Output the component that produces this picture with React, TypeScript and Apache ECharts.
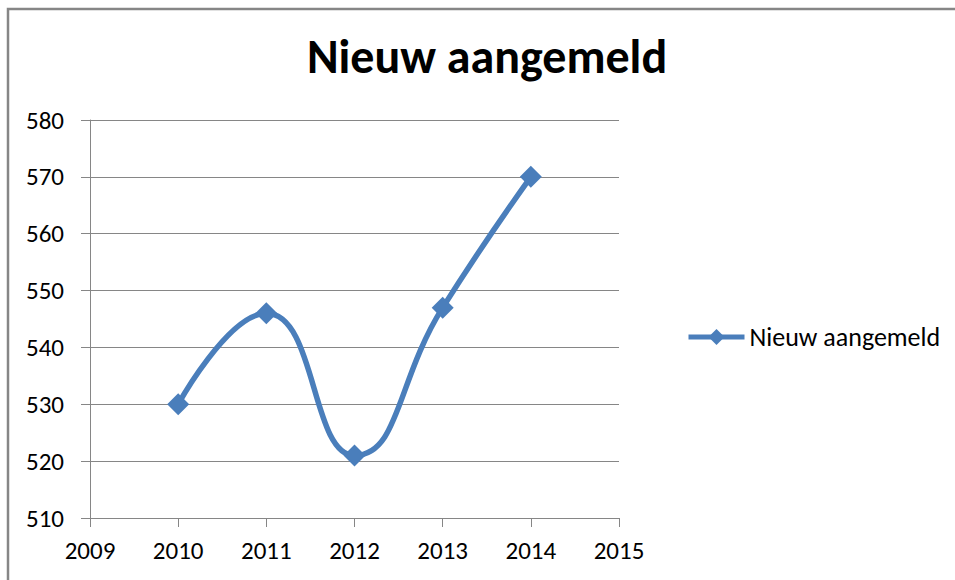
import React, { useEffect, useRef } from "react";
import * as echarts from "echarts";

const years = [2010, 2011, 2012, 2013, 2014];
const values = [530, 546, 521, 547, 570];
const seriesName = "Nieuw aangemeld";
const titleText = "Nieuw aangemeld";

const FONT = "Carlito, 'Open Sans', sans-serif";
const BLUE = "#4A7EBB";

export default function App() {
  const ref = useRef<HTMLDivElement>(null);
  useEffect(() => {
    if (!ref.current) return;
    const chart = echarts.init(ref.current, undefined, { renderer: "svg" });
    chart.setOption({
      animation: false,
      backgroundColor: "#ffffff",
      graphic: [
        {
          type: "rect",
          shape: { x: 8, y: 9, width: 1200, height: 1000 },
          style: { fill: "none", stroke: "#868686", lineWidth: 2.5 },
          z: 100,
        },
      ],
      title: {
        text: titleText,
        left: 487,
        top: 32,
        textAlign: "center",
        padding: 0,
        textStyle: { fontFamily: FONT, fontSize: 48, fontWeight: "bold", color: "#000" },
      },
      legend: {
        data: [seriesName],
        left: 686,
        top: 324,
        padding: 0,
        itemWidth: 56,
        itemHeight: 20,
        lineStyle: { width: 5 },
        textStyle: { fontFamily: FONT, fontSize: 26, color: "#000" },
      },
      grid: { left: 90, right: 336, top: 120, bottom: 62, containLabel: false },
      xAxis: {
        type: "value",
        min: 2009,
        max: 2015,
        interval: 1,
        splitLine: { show: false },
        axisLine: { show: true, lineStyle: { color: "#868686", width: 1 } },
        axisTick: { show: true, length: 9, lineStyle: { color: "#868686" } },
        axisLabel: {
          fontFamily: FONT,
          fontSize: 25,
          color: "#000",
          margin: 20,
          formatter: (v: number) => String(v),
        },
      },
      yAxis: {
        type: "value",
        min: 510,
        max: 580,
        interval: 10,
        axisLine: { show: true, lineStyle: { color: "#868686", width: 1 } },
        axisTick: { show: true, length: 9, lineStyle: { color: "#868686" } },
        splitLine: { show: true, lineStyle: { color: "#868686", width: 1 } },
        axisLabel: { fontFamily: FONT, fontSize: 25, color: "#000", margin: 26 },
      },
      series: [
        {
          name: seriesName,
          type: "line",
          data: years.map((y, i) => [y, values[i]]),
          smooth: 0.5,
          symbol: "diamond",
          symbolSize: 22,
          lineStyle: { color: BLUE, width: 5.5 },
          itemStyle: { color: BLUE },
        },
      ],
    });
    return () => chart.dispose();
  }, []);
  return (
    <div
      ref={ref}
      style={{ position: "fixed", left: 0, top: 0, width: 955, height: 580 }}
    />
  );
}
